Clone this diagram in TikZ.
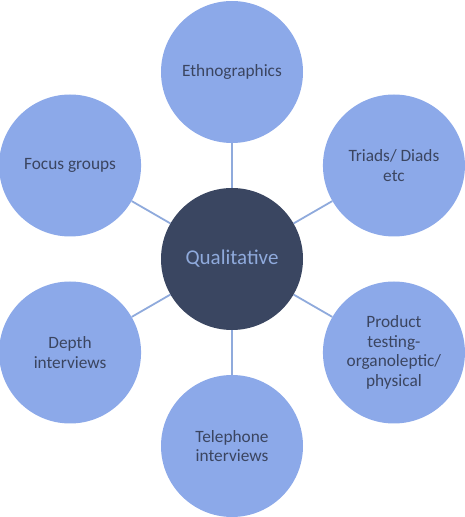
\documentclass[tikz,border=0pt]{standalone}
\usepackage{fontspec}
\setmainfont{Carlito}
\usetikzlibrary{calc,backgrounds}
\definecolor{outerfill}{HTML}{8CA9E9}
\definecolor{linkcol}{HTML}{8FAADC}
\definecolor{hubfill}{HTML}{3A4661}
\definecolor{outertext}{HTML}{3B4560}
\begin{document}
\begin{tikzpicture}[x=1pt,y=1pt,
  outer/.style={circle,fill=outerfill,minimum size=142pt,inner sep=0pt,align=center,
    text=outertext,font=\fontsize{17.3}{19.5}\selectfont},
  hub/.style={circle,fill=hubfill,minimum size=142pt,inner sep=0pt,align=center,
    text=linkcol,font=\fontsize{21}{24}\selectfont},
  link/.style={draw=linkcol,line width=1.8pt}]
\useasboundingbox (0,0) rectangle (465,517);
\coordinate (c) at (232,258);
\node[hub] (q) at (c) {Qualitative};
\node[outer] (e) at ($(c)+(90:187)$) {Ethnographics};
\node[outer] (t) at ($(c)+(30:187)$) {Triads/ Diads\\etc};
\node[outer] (p) at ($(c)+(-30:187)$) {Product\\testing-\\organoleptic/\\physical};
\node[outer] (tel) at ($(c)+(-90:187)$) {Telephone\\interviews};
\node[outer] (d) at ($(c)+(-150:187)$) {Depth\\interviews};
\node[outer] (f) at ($(c)+(150:187)$) {Focus groups};
\begin{scope}[on background layer]
\foreach \n in {e,t,p,tel,d,f} \draw[link] (q) -- (\n);
\end{scope}
\end{tikzpicture}
\end{document}
